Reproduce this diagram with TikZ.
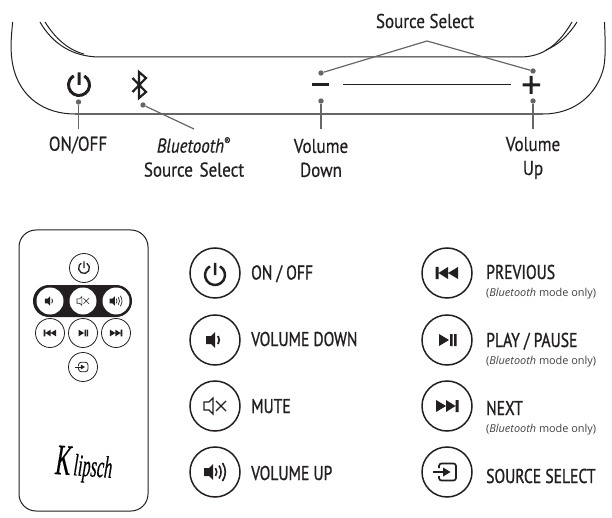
\documentclass[tikz,border=0pt]{standalone}
\usepackage{fontspec}
\setmainfont{PT Sans}[FakeStretch=0.85,FakeBold=0.5]
\newfontfamily\keyfam{PT Sans}[FakeStretch=0.78,FakeBold=1.1]
\newfontfamily\smallfam{Open Sans}
\newfontfamily\logofam{Liberation Serif}[FakeStretch=0.6,FakeBold=0.3]
\definecolor{ink}{HTML}{231F20}
\definecolor{leader}{HTML}{666666}
\newcommand{\spkbody}[1]{\fill[ink] (#1-1,-4) -- (#1+3,-8) -- (#1+3,8) -- (#1-1,4) -- (#1-6,4) -- (#1-6,-4) -- cycle;}
\tikzset{
  x=1pt,y=-1pt,
  dev/.style={line width=1pt,ink},
  lead/.style={line width=1.2pt,leader},
  dot/.style={circle,fill=leader,inner sep=0pt,minimum size=5.4pt},
  lab/.style={font=\fontsize{20}{22}\selectfont,text=ink,align=center,inner sep=0pt},
  key/.style={font=\keyfam\fontsize{20}{22}\selectfont,text=ink,anchor=base west,inner sep=0pt},
  sub/.style={font=\smallfam\fontsize{10.9}{12}\selectfont,text=ink!85,anchor=base west,inner sep=0pt},
  big/.style={circle,draw=ink,line width=1.5pt,minimum size=50pt,inner sep=0pt},
  small/.style={circle,draw=ink,line width=.8pt,fill=white,minimum size=29pt,inner sep=0pt},
  pwr/.pic={\draw[ink,line width=#1pt] (-60:10) arc (-60:240:10) (0,-12) -- (0,0);},
  voldown/.pic={\spkbody{-3}\draw[ink,line width=#1pt] (3,-4) arc (-35:35:7);},
  volup/.pic={\spkbody{-5}\draw[ink,line width=#1pt]
     (0.5,-4) arc (-35:35:7) (4,-6.5) arc (-35:35:11.3) (7.5,-9) arc (-35:35:15.7);},
  mute/.pic={\draw[ink,line width=#1pt,line join=miter] (-6,-4) -- (-11,-4) -- (-11,4) -- (-6,4) -- (-2,8) -- (-2,-8) -- (-6,-4)
     (1,-5) -- (11,5) (1,5) -- (11,-5);},
  prev/.pic={\fill[ink] (-11.5,-6) rectangle (-8.5,6) (-8.5,0) -- (1,-6) -- (1,6) -- cycle (1,0) -- (11,-6) -- (11,6) -- cycle;},
  next/.pic={\fill[ink] (11.5,-6) rectangle (8.5,6) (8.5,0) -- (-1,-6) -- (-1,6) -- cycle (-1,0) -- (-11,-6) -- (-11,6) -- cycle;},
  playp/.pic={\fill[ink] (-8,-6) -- (2,0) -- (-8,6) -- cycle (3,-6) rectangle (5.5,6) (7,-6) rectangle (9.5,6);},
  srcsel/.pic={\draw[ink,line width=#1pt,rounded corners=2.5pt] (-8,-4) -- (-8,-8.5) -- (9,-8.5) -- (9,8.5) -- (-8,8.5) -- (-8,4);
     \draw[ink,line width=#1pt] (-14,0) -- (-3,0);\fill[ink] (-4,-4.5) -- (3.5,0) -- (-4,4.5) -- cycle;},
}
\begin{document}
\begin{tikzpicture}
\useasboundingbox (0,0) rectangle (612,518);
% device outline
\draw[dev] (12.7,22) .. controls (11,38) and (10,52) .. (13,66) .. controls (20,98) and (45,114) .. (75,114);
\draw[line width=1.4pt,leader] (75,114) -- (543,114);
\draw[dev] (543,114) .. controls (575,114) and (598,94) .. (604,66) .. controls (606,52) and (605,38) .. (604.5,22);
\draw[dev] (40,22) .. controls (52,43) and (72,57) .. (100,57) -- (520,57) .. controls (542,57) and (558,46) .. (572,22);
\draw[dev] (45,22) .. controls (55,38) and (68,50) .. (84,54);
\draw[dev] (546,50) .. controls (558,45) and (568,36) .. (577,22);
% device controls
\path (79,85) pic[scale=1.05] {pwr=3};
\draw[ink,line width=2.2pt,line join=miter] (132.5,78) -- (146,92) -- (139,98) -- (139,72) -- (146,78) -- (132.5,92);
\fill[ink] (312,83.5) rectangle (329,86.5);
\draw[ink,line width=1pt] (343,84.5) -- (511,84.5);
\fill[ink] (522.5,83.5) rectangle (540,86.5) (529.7,76) rectangle (532.7,94);
% leaders
\node[dot] (dOn) at (78.5,102) {};
\node[dot] (dBt) at (143,105) {};
\node[dot] (dDn) at (321,101) {};
\node[dot] (dUp) at (533,101) {};
\node[dot] (dSl) at (321,73) {};
\node[dot] (dSr) at (533,71) {};
\coordinate (eOn) at (78.5,129);
\coordinate (eBt) at (194,129);
\coordinate (eDn) at (321,129);
\coordinate (eUp) at (533,129);
\coordinate (apex) at (427,41);
\draw[lead] (dOn) -- (eOn);
\draw[lead] (dBt) -- (eBt);
\draw[lead] (dDn) -- (eDn);
\draw[lead] (dUp) -- (eUp);
\draw[lead] (dSl) -- (apex) -- (dSr);
% device labels
\node[lab] (tSel) at (425,21) {Source Select};
\node[lab] (tOn) at (78,145) {ON/OFF};
\node[lab,text width=120pt] (tBt) at (194,157) {\textit{Bluetooth}\textsuperscript{\fontsize{11}{11}\selectfont ®}\\[2pt]Source Select};
\node[lab,text width=80pt] (tDn) at (321,158) {Volume\\[2pt]Down};
\node[lab,text width=80pt] (tUp) at (533,158) {Volume\\[2pt]Up};
% remote
\draw[ink,line width=1pt,rounded corners=17pt] (19,230) rectangle (148,511);
\node[small] (rOn) at (84,268) {};
\path (rOn) pic[scale=.55] {pwr=1.3};
\fill[ink,rounded corners=15.9pt] (33,285) rectangle (132,317);
\node[small,draw=none,minimum size=27pt] (rDn) at (50,301) {};
\node[small,draw=none,minimum size=27pt] (rMu) at (83,301) {};
\node[small,draw=none,minimum size=27pt] (rUp) at (116,301) {};
\path (rDn) pic[scale=.58] {voldown=.9};
\path (rMu) pic[scale=.55] {mute=.6};
\path (rUp) pic[scale=.58] {volup=.7};
\node[small] (rPr) at (50,333) {};
\node[small] (rPl) at (83,333) {};
\node[small] (rNx) at (116,333) {};
\node[small] (rSr) at (83,367) {};
\path (rPr) pic[scale=.55] {prev};
\path (rPl) pic[scale=.55] {playp};
\path (rNx) pic[scale=.55] {next};
\path (rSr) pic[scale=.55] {srcsel=.8};
\node[inner sep=0pt,rotate=-4,yscale=1.15] (logo) at (84,465) {\logofam\itshape\fontsize{27}{30}\selectfont{\fontsize{38}{40}\selectfont K}\hspace{3pt}lipsch};
% key, left column
\node[big] (kOn) at (215,273) {};
\node[big] (kDn) at (215,340) {};
\node[big] (kMu) at (215,406) {};
\node[big] (kUp) at (215,472) {};
\path (215,275) pic {pwr=2.5};
\path (kDn) pic {voldown=1.8};
\path (kMu) pic {mute=1.3};
\path (kUp) pic {volup=1.6};
\node[key] (lOn) at (251,279.5) {ON / OFF};
\node[key] (lDn) at (251,346) {VOLUME DOWN};
\node[key] (lMu) at (251,413) {MUTE};
\node[key] (lUp) at (251,480) {VOLUME UP};
% key, right column
\node[big] (kPr) at (447,273) {};
\node[big] (kPl) at (447,340) {};
\node[big] (kNx) at (447,406) {};
\node[big] (kSr) at (447,472) {};
\path (kPr) pic {prev};
\path (kPl) pic {playp};
\path (kNx) pic {next};
\path (kSr) pic {srcsel=1.7};
\node[key] (lPr) at (486,279) {PREVIOUS};
\node[sub] (sPr) at (486,296) {(\textit{Bluetooth} mode only)};
\node[key] (lPl) at (486,347) {PLAY / PAUSE};
\node[sub] (sPl) at (486,364) {(\textit{Bluetooth} mode only)};
\node[key] (lNx) at (486,415) {NEXT};
\node[sub] (sNx) at (486,432) {(\textit{Bluetooth} mode only)};
\node[key] (lSr) at (486,483) {SOURCE SELECT};
\end{tikzpicture}
\end{document}
